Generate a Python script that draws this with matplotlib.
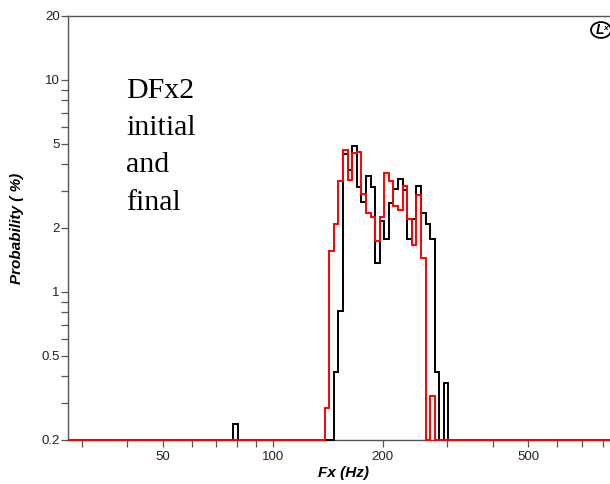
import numpy as np
import matplotlib
matplotlib.use('Agg')
import matplotlib.pyplot as plt
from matplotlib.ticker import FixedLocator, NullFormatter, FixedFormatter
from matplotlib.patches import Circle

# Quarter-tone bins referenced to A0 = 27.5 Hz
refHz = 27.5
binsPerOctave = 24
nBins = 120          # 27.5 Hz .. 880 Hz

# Black histogram (initial): first bin index and values (%)
blackSpikeBin = 36
blackSpikeValue = 0.238
blackStartBin = 58
blackValues = [0.417, 0.81, 4.47, 3.75, 4.87, 3.12, 2.66, 3.51, 3.12, 1.37,
               2.16, 1.77, 2.63, 3.07, 3.39, 3.02, 1.77, 2.20, 3.17, 2.35,
               2.08, 1.77, 0.417, 0.0, 0.373]

# Red histogram (final)
redStartBin = 56
redValues = [0.283, 1.56, 2.09, 3.33, 4.67, 3.37, 4.53, 4.55, 2.88, 2.35,
             2.25, 1.74, 2.25, 3.62, 3.33, 2.55, 2.43, 3.17, 2.20, 1.66,
             2.86, 1.44, 0.0, 0.324]

xTicks = [50, 100, 200, 500]
xMinor = [30, 40, 60, 70, 80, 90, 300, 400, 600, 700, 800]
yTicks = [0.2, 0.5, 1, 2, 5, 10, 20]
yTickLabels = ['0.2', '0.5', '1', '2', '5', '10', '20']
yMinor = [0.3, 0.4, 0.6, 0.7, 0.8, 0.9, 3, 4, 6, 7, 8, 9]

yMin, yMax = 0.2, 20

edges = refHz * 2.0 ** (np.arange(nBins + 1) / binsPerOctave)

def fillBins(start, values):
    full = np.zeros(nBins)
    full[start:start + len(values)] = values
    return full

black = fillBins(blackStartBin, blackValues)
black[blackSpikeBin] = blackSpikeValue
red = fillBins(redStartBin, redValues)

# Empty bins sit on the bottom of the axis
black = np.maximum(black, yMin)
red = np.maximum(red, yMin)

plt.rcParams['font.family'] = ['Liberation Sans', 'DejaVu Sans']

fig = plt.figure(figsize=(6.1, 4.84), dpi=100)
axLeft, axRight = 68 / 610, 618 / 610
axBottom, axTop = 1 - 440 / 484, 1 - 16 / 484
ax = fig.add_axes([axLeft, axBottom, axRight - axLeft, axTop - axBottom])

ax.stairs(black, edges, baseline=None, color='black', linewidth=1.4,
          clip_on=False, zorder=3)
ax.stairs(red, edges, baseline=None, color='#ff0000', linewidth=1.4,
          clip_on=False, zorder=4)

ax.set_xscale('log')
ax.set_yscale('log')
ax.set_xlim(edges[0], edges[-1])
ax.set_ylim(yMin, yMax)

ax.xaxis.set_major_locator(FixedLocator(xTicks))
ax.xaxis.set_major_formatter(FixedFormatter([str(t) for t in xTicks]))
ax.xaxis.set_minor_locator(FixedLocator(xMinor))
ax.xaxis.set_minor_formatter(NullFormatter())
ax.yaxis.set_major_locator(FixedLocator(yTicks))
ax.yaxis.set_major_formatter(FixedFormatter(yTickLabels))
ax.yaxis.set_minor_locator(FixedLocator(yMinor))
ax.yaxis.set_minor_formatter(NullFormatter())

spineColor = '#555555'
for side in ['left', 'top', 'bottom']:
    ax.spines[side].set_color(spineColor)
    ax.spines[side].set_linewidth(1.0)
ax.spines['right'].set_visible(False)

ax.tick_params(which='both', direction='out', length=5, width=0.9,
               color=spineColor, labelsize=9.5, labelcolor='#222222')
ax.tick_params(axis='y', which='both', pad=1)
ax.tick_params(axis='x', which='both', pad=3)

fig.text(343 / 610, 1 - 473 / 484, 'Fx (Hz)', ha='center', va='center',
         fontsize=11, fontweight='bold', style='italic')
fig.text(16.7 / 610, 1 - 228 / 484, 'Probability ( %)', ha='center', va='center',
         rotation=90, fontsize=11, fontweight='bold', style='italic')

fig.text(126 / 610, 1 - 78 / 484, 'DFx2\ninitial\nand\nfinal',
         ha='left', va='top', fontsize=21.5, family='Liberation Serif',
         linespacing=1.56)

# Logo in the top right corner
logo = Circle((601 / 610, 1 - 30 / 484), 10 / 610, transform=fig.transFigure,
              fill=False, edgecolor='black', linewidth=1.3)
fig.patches.append(logo)
fig.text(600 / 610, 1 - 30 / 484, 'L', ha='center', va='center', fontsize=10,
         fontweight='bold', style='italic')
fig.text(606 / 610, 1 - 28 / 484, 'x', ha='center', va='center', fontsize=6,
         fontweight='bold', style='italic')

fig.savefig('out.png', dpi=100)
